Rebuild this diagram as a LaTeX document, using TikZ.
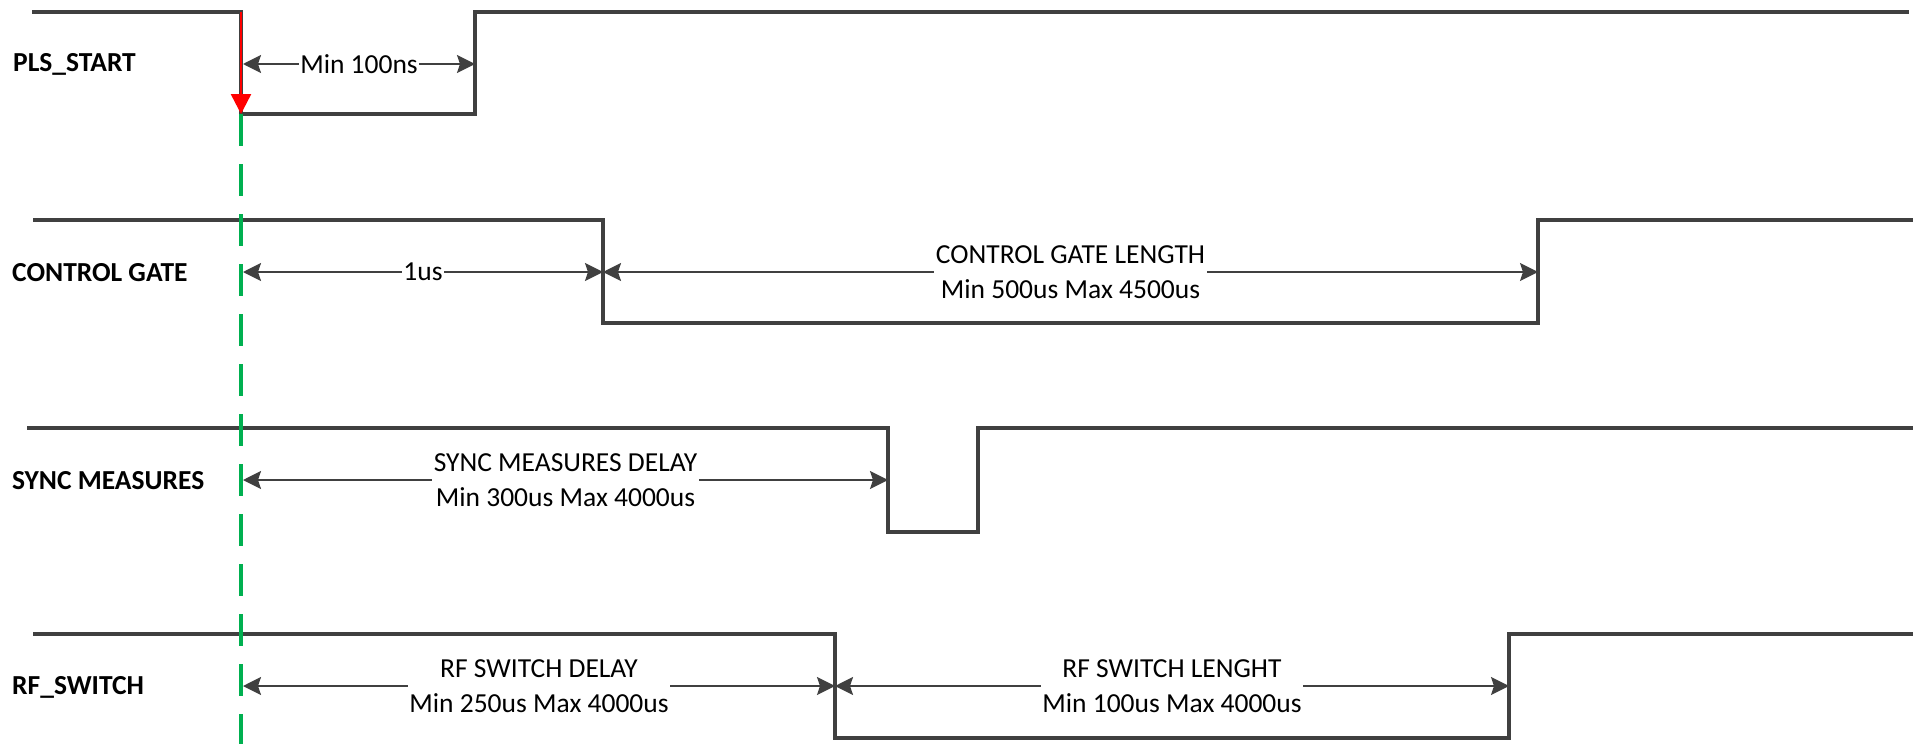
\documentclass[tikz,border=0pt]{standalone}
\usepackage{fontspec}
\setmainfont{Carlito}
\usetikzlibrary{arrows.meta}
\definecolor{sigcol}{RGB}{64,64,64}
\definecolor{shadowcol}{RGB}{215,215,215}
\definecolor{greencol}{RGB}{0,176,80}
\begin{document}
\begin{tikzpicture}[x=1pt,y=-1pt,
  sig/.style={draw=sigcol, line width=3.5pt, line join=miter},
  sigshadow/.style={draw=shadowcol, line width=3.5pt, line join=miter, shift={(2.5pt,-2.5pt)}},
  dim/.style={draw=sigcol, line width=2pt,
    {Stealth[length=18pt,width=18pt,inset=3pt]}-{Stealth[length=18pt,width=18pt,inset=3pt]}},
  dimlbl/.style={fill=white, inner sep=1.5pt, align=center, text=black,
    font=\fontsize{27.5}{35}\selectfont},
  siglbl/.style={anchor=west, inner sep=0pt, text=black,
    font=\fontsize{27.5}{33}\selectfont\bfseries},
  trig/.style={draw=red, line width=2.5pt, -{Triangle[length=20pt,width=20pt]}},
  startline/.style={draw=greencol, line width=3.5pt, dash pattern=on 32pt off 18pt}
]
\useasboundingbox (0,0) rectangle (1919,744);

% ---- signal labels
\node[siglbl] (lPLS)  at (13,64)  {PLS\_START};
\node[siglbl] (lCG)   at (12,273) {CONTROL GATE};
\node[siglbl] (lSYNC) at (12,481) {SYNC MEASURES};
\node[siglbl] (lRF)   at (12,687) {RF\_SWITCH};

% ---- waveform corner points
\coordinate (p0) at (32,12);   \coordinate (p1) at (241,12);
\coordinate (p2) at (241,114); \coordinate (p3) at (475,114);
\coordinate (p4) at (475,12);  \coordinate (p5) at (1909,12);

\coordinate (c0) at (33,220);   \coordinate (c1) at (603,220);
\coordinate (c2) at (603,323);  \coordinate (c3) at (1538,323);
\coordinate (c4) at (1538,220); \coordinate (c5) at (1913,220);

\coordinate (s0) at (27,428);  \coordinate (s1) at (888,428);
\coordinate (s2) at (888,532); \coordinate (s3) at (978,532);
\coordinate (s4) at (978,428); \coordinate (s5) at (1913,428);

\coordinate (r0) at (33,634);   \coordinate (r1) at (835,634);
\coordinate (r2) at (835,738);  \coordinate (r3) at (1509,738);
\coordinate (r4) at (1509,634); \coordinate (r5) at (1913,634);

% ---- shadows
\draw[sigshadow] (p2) -- (p3) -- (p4) -- (p5);
\draw[sigshadow] (c0) -- (c1) -- (c2) -- (c3) -- (c4) -- (c5);
\draw[sigshadow] (s0) -- (s1) -- (s2) -- (s3) -- (s4) -- (s5);
\draw[sigshadow] (r0) -- (r1) -- (r2) -- (r3) -- (r4) -- (r5);

% ---- waveforms
\draw[sig] (p0) -- (p1) -- (p2) -- (p3) -- (p4) -- (p5);
\draw[sig] (c0) -- (c1) -- (c2) -- (c3) -- (c4) -- (c5);
\draw[sig] (s0) -- (s1) -- (s2) -- (s3) -- (s4) -- (s5);
\draw[sig] (r0) -- (r1) -- (r2) -- (r3) -- (r4) -- (r5);

% ---- start reference line and trigger
\coordinate (gBot) at (241,744);
\draw[startline] (p2) -- (gBot);
\draw[trig] (p1) -- (p2);

% ---- dimension arrows
\coordinate (dP1) at (243,64);  \coordinate (dP2) at (475,64);
\draw[dim] (dP1) -- (dP2) node[dimlbl, midway] (tP) {Min 100ns};

\coordinate (dC1) at (243,272); \coordinate (dC2) at (603,272); \coordinate (dC3) at (1538,272);
\draw[dim] (dC1) -- (dC2) node[dimlbl, midway] (tC1) {1us};
\draw[dim] (dC2) -- (dC3) node[dimlbl, midway] (tC2) {CONTROL GATE LENGTH\\Min 500us Max 4500us};

\coordinate (dS1) at (243,480); \coordinate (dS2) at (888,480);
\draw[dim] (dS1) -- (dS2) node[dimlbl, midway] (tS) {SYNC MEASURES DELAY\\Min 300us Max 4000us};

\coordinate (dR1) at (243,686); \coordinate (dR2) at (835,686); \coordinate (dR3) at (1509,686);
\draw[dim] (dR1) -- (dR2) node[dimlbl, midway] (tR1) {RF SWITCH DELAY\\Min 250us Max 4000us};
\draw[dim] (dR2) -- (dR3) node[dimlbl, midway] (tR2) {RF SWITCH LENGHT\\Min 100us Max 4000us};
\end{tikzpicture}
\end{document}
